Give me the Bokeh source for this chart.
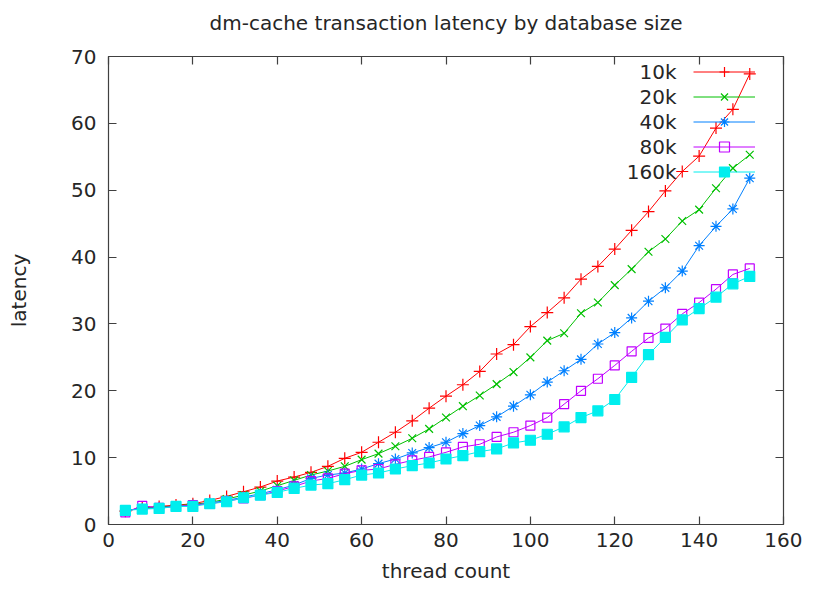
from bokeh.plotting import figure
from bokeh.models import (LinearAxis, Legend, LegendItem, Label, FixedTicker,
                          CustomJSTickFormatter, Range1d)
from bokeh.embed import file_html
from bokeh.resources import INLINE

threads = list(range(4, 153, 4))

lat_10k = [2.0, 2.5, 2.7, 2.9, 3.1, 3.6, 4.2, 4.9, 5.6, 6.5, 7.1, 7.8, 8.7, 9.9,
           10.8, 12.3, 13.8, 15.5, 17.4, 19.2, 20.9, 22.9, 25.5, 26.9, 29.6, 31.7,
           33.9, 36.7, 38.6, 41.2, 44.0, 46.8, 49.9, 52.8, 55.1, 59.3, 62.1, 67.4]
lat_20k = [2.1, 2.4, 2.6, 2.8, 3.0, 3.3, 3.8, 4.4, 5.0, 5.8, 6.6, 7.4, 8.0, 8.7,
           9.7, 10.6, 11.7, 12.9, 14.3, 16.0, 17.7, 19.3, 21.0, 22.8, 25.0, 27.5,
           28.6, 31.6, 33.2, 35.8, 38.2, 40.8, 42.7, 45.4, 47.1, 50.3, 53.3, 55.3]
lat_40k = [2.1, 2.4, 2.5, 2.7, 2.9, 3.2, 3.6, 4.1, 4.6, 5.2, 5.9, 6.9, 7.4, 7.7,
           8.3, 9.1, 9.8, 10.7, 11.5, 12.3, 13.6, 14.8, 16.1, 17.7, 19.4, 21.3,
           23.0, 24.7, 27.0, 28.7, 30.9, 33.4, 35.4, 37.9, 41.7, 44.6, 47.2, 51.8]
lat_80k = [1.8, 2.8, 2.5, 2.7, 2.9, 3.1, 3.5, 3.9, 4.4, 5.0, 5.7, 6.5, 6.9, 7.6,
           8.1, 8.3, 9.0, 9.6, 10.1, 10.8, 11.6, 12.0, 13.1, 13.8, 14.8, 16.0,
           18.0, 20.0, 21.8, 23.8, 25.9, 27.9, 29.3, 31.5, 33.2, 35.2, 37.4, 38.3]
lat_160k = [2.1, 2.3, 2.4, 2.7, 2.7, 3.1, 3.4, 4.0, 4.4, 4.8, 5.4, 5.9, 6.1, 6.7,
            7.4, 7.7, 8.3, 8.8, 9.2, 9.8, 10.3, 10.9, 11.3, 12.2, 12.6, 13.5,
            14.6, 16.0, 17.0, 18.7, 22.0, 25.4, 28.0, 30.6, 32.3, 34.0, 36.0, 37.1]

series_names = ["10k", "20k", "40k", "80k", "160k"]
x_ticks = [0, 20, 40, 60, 80, 100, 120, 140, 160]
y_ticks = [0, 10, 20, 30, 40, 50, 60, 70]
title_text = "dm-cache transaction latency by database size"

FONT = "DejaVu Sans"
TXT = "#262626"
AX = "#404040"

W, H = 802, 587
BL, BR, BT, BB = 108, 19, 56, 63
FW, FH = W - BL - BR, H - BT - BB

p = figure(width=W, height=H, output_backend="svg", toolbar_location=None,
           x_range=Range1d(0, 160), y_range=Range1d(0, 70),
           min_border_left=BL, min_border_right=BR, min_border_top=BT,
           min_border_bottom=BB, title=title_text)
p.title.text_font = FONT
p.title.text_font_size = "20px"
p.title.text_font_style = "normal"
p.title.text_color = TXT
p.title.align = "center"

p.grid.visible = False
p.outline_line_color = AX
p.outline_line_width = 1.2
p.background_fill_color = "white"
p.border_fill_color = "white"

p.xaxis.ticker = FixedTicker(ticks=x_ticks)
p.yaxis.ticker = FixedTicker(ticks=y_ticks)
for ax in (p.xaxis[0], p.yaxis[0]):
    ax.major_tick_in = 8
    ax.major_tick_out = 0
    ax.minor_tick_line_color = None
    ax.axis_line_color = AX
    ax.major_tick_line_color = AX
    ax.major_tick_line_width = 1.2
    ax.major_label_text_font = FONT
    ax.major_label_text_font_size = "20px"
    ax.major_label_text_color = TXT
    ax.axis_label_text_font = FONT
    ax.axis_label_text_font_size = "20px"
    ax.axis_label_text_font_style = "normal"
    ax.axis_label_text_color = TXT
p.xaxis.axis_label = "thread count"
p.yaxis.axis_label = "latency"
p.xaxis.major_label_standoff = 8
p.xaxis.axis_label_standoff = 9
p.yaxis.major_label_standoff = 12
p.yaxis.axis_label_standoff = 37

blank = CustomJSTickFormatter(code="return ''")
top = LinearAxis(ticker=FixedTicker(ticks=x_ticks), formatter=blank)
right = LinearAxis(ticker=FixedTicker(ticks=y_ticks), formatter=blank)
for ax in (top, right):
    ax.major_tick_in = 8
    ax.major_tick_out = 0
    ax.minor_tick_line_color = None
    ax.axis_line_color = AX
    ax.major_tick_line_color = AX
    ax.major_tick_line_width = 1.2
    ax.major_label_standoff = 0
    ax.axis_label_standoff = 0
    ax.major_label_text_font_size = "1px"
top.axis_label = " "
top.axis_label_text_font_size = "1px"
top.axis_label_standoff = 13
p.add_layout(top, "above")
p.add_layout(right, "right")

styles = [
    (lat_10k, "#ff0000", "cross", 12, "#ff0000"),
    (lat_20k, "#00c000", "x", 11, "#00c000"),
    (lat_40k, "#0080ff", "asterisk", 11, "#0080ff"),
    (lat_80k, "#c000ff", "square", 9, None),
    (lat_160k, "#00eeee", "square", 10, "#00eeee"),
]

items = []
for (vals, col, mk, sz, fill), name in zip(styles, series_names):
    ln = p.line(threads, vals, line_color=col, line_width=1)
    sc = p.scatter(threads, vals, marker=mk, size=sz, line_color=col,
                   fill_color=fill, line_width=1.2)
    items.append(LegendItem(label=" ", renderers=[ln, sc]))

legend = Legend(items=items, location=(585, FH - 128), glyph_width=62, glyph_height=25,
                spacing=0, padding=0, margin=0, label_standoff=0, label_width=0,
                label_height=0, label_text_font_size="20px",
                border_line_color=None, background_fill_alpha=0)
p.add_layout(legend, "center")

for i, name in enumerate(series_names):
    p.add_layout(Label(x=568, y=FH - 15 - 25 * i, x_units="screen", y_units="screen",
                       text=name, text_align="right", text_baseline="middle",
                       text_font=FONT, text_font_size="20px", text_color=TXT))

open("out.html", "w").write(file_html(p, INLINE))
